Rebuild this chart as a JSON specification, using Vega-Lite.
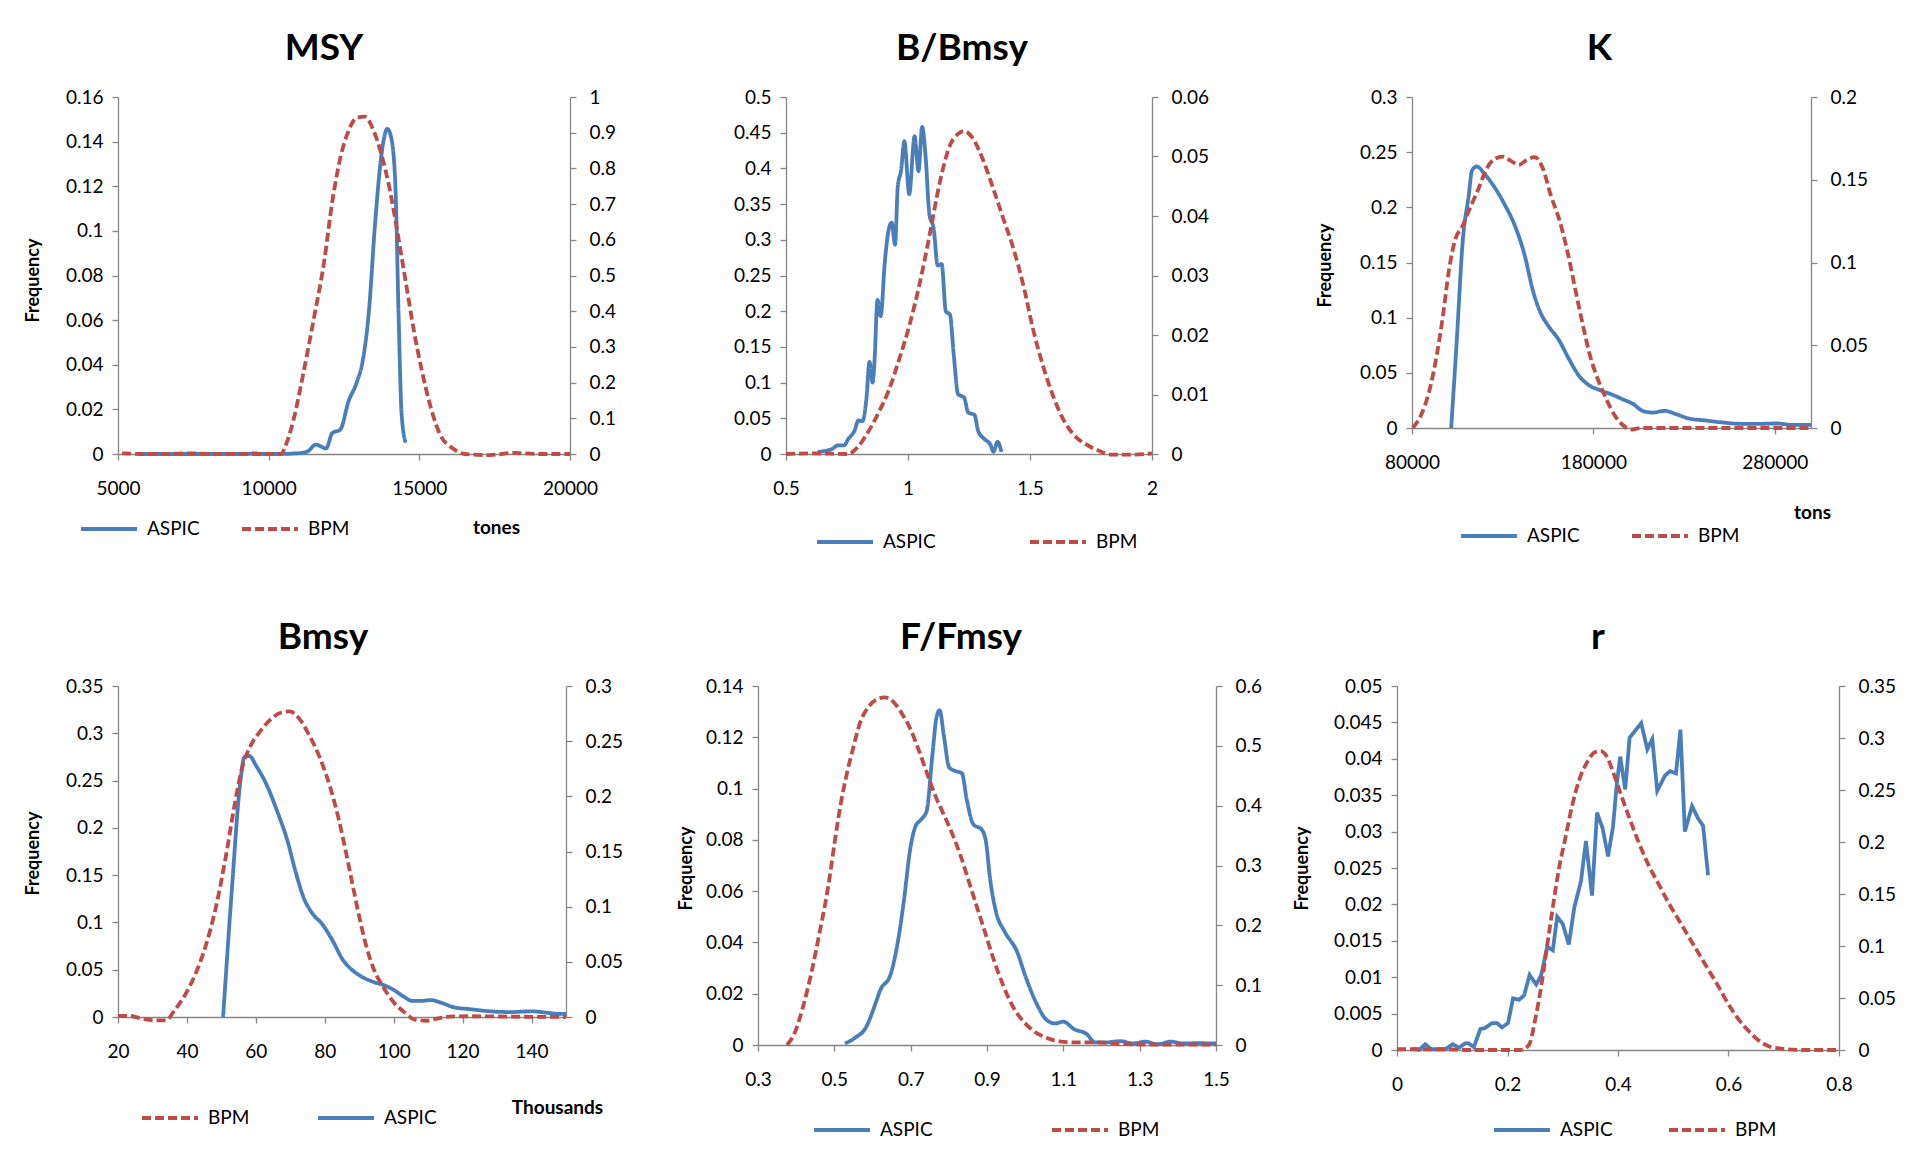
{
"$schema": "https://vega.github.io/schema/vega-lite/v6.json",
"autosize": {"type": "none"},
"padding": {"left": 118, "top": 97, "right": 1792, "bottom": 1079},
"background": "white",
"config": {
 "view": {"stroke": null},
 "font": "Lato",
 "axis": {"domainColor": "#868686", "tickColor": "#868686", "domainWidth": 1.3, "tickWidth": 1.3, "tickSize": 6, "labelFont": "Lato", "labelFontSize": 19, "labelColor": "#000000", "titleFont": "Lato", "titleFontSize": 18, "titleFontWeight": "bold", "titleColor": "#000000", "grid": false, "labelFlush": false, "labelOverlap": false, "labelBound": false, "format": "~g"},
 "axisX": {"labelPadding": 19},
 "axisLeft": {"labelPadding": 9},
 "axisRight": {"labelPadding": 13},
 "title": {"font": "Lato", "fontSize": 37, "fontWeight": "bold", "color": "#000000", "frame": "group", "anchor": "middle", "offset": 20},
 "legend": {"orient": "none", "direction": "horizontal", "title": null, "symbolType": "stroke", "symbolSize": 3136, "symbolStrokeWidth": 3.8, "labelFont": "Lato", "labelFontSize": 19, "labelColor": "#000000", "labelOffset": 8, "padding": 0}
},
"datasets": {
 "msy": [
  {"x":5745,"y":0,"s":"ASPIC"},{"x":6500,"y":0,"s":"ASPIC"},{"x":7500,"y":0,"s":"ASPIC"},{"x":8500,"y":0,"s":"ASPIC"},{"x":9300,"y":0,"s":"ASPIC"},{"x":9500,"y":0.0003,"s":"ASPIC"},{"x":9800,"y":0,"s":"ASPIC"},{"x":10400,"y":0,"s":"ASPIC"},{"x":10800,"y":0.0002,"s":"ASPIC"},{"x":11090,"y":0.0005,"s":"ASPIC"},{"x":11300,"y":0.0012,"s":"ASPIC"},{"x":11566,"y":0.0042,"s":"ASPIC"},{"x":11904,"y":0.0025,"s":"ASPIC"},{"x":12108,"y":0.0093,"s":"ASPIC"},{"x":12379,"y":0.011,"s":"ASPIC"},{"x":12650,"y":0.0236,"s":"ASPIC"},{"x":12920,"y":0.032,"s":"ASPIC"},{"x":13124,"y":0.042,"s":"ASPIC"},{"x":13327,"y":0.064,"s":"ASPIC"},{"x":13530,"y":0.103,"s":"ASPIC"},{"x":13733,"y":0.133,"s":"ASPIC"},{"x":13936,"y":0.1457,"s":"ASPIC"},{"x":14071,"y":0.1415,"s":"ASPIC"},{"x":14206,"y":0.12,"s":"ASPIC"},{"x":14314,"y":0.061,"s":"ASPIC"},{"x":14409,"y":0.0185,"s":"ASPIC"},{"x":14545,"y":0.005,"s":"ASPIC"},
  {"x":5135,"y":0.002,"s":"BPM"},{"x":6000,"y":0,"s":"BPM"},{"x":7000,"y":0.001,"s":"BPM"},{"x":7500,"y":0.002,"s":"BPM"},{"x":8000,"y":0,"s":"BPM"},{"x":9500,"y":0,"s":"BPM"},{"x":10416,"y":0,"s":"BPM"},{"x":10550,"y":0.021,"s":"BPM"},{"x":10822,"y":0.095,"s":"BPM"},{"x":11160,"y":0.23,"s":"BPM"},{"x":11500,"y":0.38,"s":"BPM"},{"x":11838,"y":0.537,"s":"BPM"},{"x":12108,"y":0.705,"s":"BPM"},{"x":12379,"y":0.83,"s":"BPM"},{"x":12650,"y":0.905,"s":"BPM"},{"x":12920,"y":0.942,"s":"BPM"},{"x":13191,"y":0.945,"s":"BPM"},{"x":13462,"y":0.91,"s":"BPM"},{"x":13733,"y":0.842,"s":"BPM"},{"x":14004,"y":0.747,"s":"BPM"},{"x":14275,"y":0.621,"s":"BPM"},{"x":14545,"y":0.484,"s":"BPM"},{"x":14816,"y":0.347,"s":"BPM"},{"x":15087,"y":0.232,"s":"BPM"},{"x":15358,"y":0.137,"s":"BPM"},{"x":15697,"y":0.053,"s":"BPM"},{"x":16103,"y":0.016,"s":"BPM"},{"x":16509,"y":0,"s":"BPM"},{"x":17321,"y":-0.003,"s":"BPM"},{"x":18133,"y":0.003,"s":"BPM"},{"x":18945,"y":0,"s":"BPM"},{"x":20000,"y":0,"s":"BPM"}
 ],
 "bb": [
  {"x":0.63,"y":0.003,"s":"ASPIC"},{"x":0.655,"y":0.004,"s":"ASPIC"},{"x":0.688,"y":0.007,"s":"ASPIC"},{"x":0.713,"y":0.012,"s":"ASPIC"},{"x":0.738,"y":0.012,"s":"ASPIC"},{"x":0.755,"y":0.021,"s":"ASPIC"},{"x":0.78,"y":0.032,"s":"ASPIC"},{"x":0.797,"y":0.047,"s":"ASPIC"},{"x":0.813,"y":0.046,"s":"ASPIC"},{"x":0.83,"y":0.079,"s":"ASPIC"},{"x":0.842,"y":0.129,"s":"ASPIC"},{"x":0.855,"y":0.1,"s":"ASPIC"},{"x":0.863,"y":0.132,"s":"ASPIC"},{"x":0.875,"y":0.216,"s":"ASPIC"},{"x":0.888,"y":0.193,"s":"ASPIC"},{"x":0.905,"y":0.269,"s":"ASPIC"},{"x":0.922,"y":0.316,"s":"ASPIC"},{"x":0.933,"y":0.324,"s":"ASPIC"},{"x":0.947,"y":0.293,"s":"ASPIC"},{"x":0.958,"y":0.374,"s":"ASPIC"},{"x":0.972,"y":0.398,"s":"ASPIC"},{"x":0.985,"y":0.438,"s":"ASPIC"},{"x":1.005,"y":0.364,"s":"ASPIC"},{"x":1.027,"y":0.445,"s":"ASPIC"},{"x":1.043,"y":0.396,"s":"ASPIC"},{"x":1.058,"y":0.458,"s":"ASPIC"},{"x":1.072,"y":0.417,"s":"ASPIC"},{"x":1.088,"y":0.335,"s":"ASPIC"},{"x":1.105,"y":0.316,"s":"ASPIC"},{"x":1.122,"y":0.264,"s":"ASPIC"},{"x":1.138,"y":0.266,"s":"ASPIC"},{"x":1.155,"y":0.2,"s":"ASPIC"},{"x":1.172,"y":0.195,"s":"ASPIC"},{"x":1.188,"y":0.137,"s":"ASPIC"},{"x":1.205,"y":0.084,"s":"ASPIC"},{"x":1.23,"y":0.079,"s":"ASPIC"},{"x":1.247,"y":0.058,"s":"ASPIC"},{"x":1.272,"y":0.055,"s":"ASPIC"},{"x":1.288,"y":0.032,"s":"ASPIC"},{"x":1.313,"y":0.021,"s":"ASPIC"},{"x":1.338,"y":0.013,"s":"ASPIC"},{"x":1.35,"y":0.003,"s":"ASPIC"},{"x":1.367,"y":0.017,"s":"ASPIC"},{"x":1.383,"y":0.003,"s":"ASPIC"},
  {"x":0.5,"y":0,"s":"BPM"},{"x":0.613,"y":0.0001,"s":"BPM"},{"x":0.755,"y":0,"s":"BPM"},{"x":0.797,"y":0.0013,"s":"BPM"},{"x":0.838,"y":0.0038,"s":"BPM"},{"x":0.88,"y":0.007,"s":"BPM"},{"x":0.922,"y":0.0108,"s":"BPM"},{"x":0.963,"y":0.0158,"s":"BPM"},{"x":1.005,"y":0.0215,"s":"BPM"},{"x":1.047,"y":0.0285,"s":"BPM"},{"x":1.088,"y":0.0367,"s":"BPM"},{"x":1.13,"y":0.0456,"s":"BPM"},{"x":1.172,"y":0.0519,"s":"BPM"},{"x":1.205,"y":0.0538,"s":"BPM"},{"x":1.23,"y":0.0543,"s":"BPM"},{"x":1.263,"y":0.0532,"s":"BPM"},{"x":1.305,"y":0.0497,"s":"BPM"},{"x":1.347,"y":0.0449,"s":"BPM"},{"x":1.388,"y":0.0399,"s":"BPM"},{"x":1.43,"y":0.0348,"s":"BPM"},{"x":1.472,"y":0.0285,"s":"BPM"},{"x":1.513,"y":0.0209,"s":"BPM"},{"x":1.555,"y":0.0146,"s":"BPM"},{"x":1.597,"y":0.0095,"s":"BPM"},{"x":1.638,"y":0.0057,"s":"BPM"},{"x":1.68,"y":0.0032,"s":"BPM"},{"x":1.73,"y":0.0016,"s":"BPM"},{"x":1.78,"y":0.0006,"s":"BPM"},{"x":1.83,"y":-0.0001,"s":"BPM"},{"x":1.913,"y":-0.0001,"s":"BPM"},{"x":2.0,"y":0.0001,"s":"BPM"}
 ],
 "k": [
  {"x":101600,"y":0,"s":"ASPIC"},{"x":104700,"y":0.08,"s":"ASPIC"},{"x":108000,"y":0.17,"s":"ASPIC"},{"x":111300,"y":0.211,"s":"ASPIC"},{"x":113100,"y":0.2335,"s":"ASPIC"},{"x":115700,"y":0.237,"s":"ASPIC"},{"x":120100,"y":0.23,"s":"ASPIC"},{"x":125600,"y":0.218,"s":"ASPIC"},{"x":131100,"y":0.2025,"s":"ASPIC"},{"x":136700,"y":0.1835,"s":"ASPIC"},{"x":142200,"y":0.156,"s":"ASPIC"},{"x":146600,"y":0.125,"s":"ASPIC"},{"x":151000,"y":0.104,"s":"ASPIC"},{"x":155400,"y":0.092,"s":"ASPIC"},{"x":160900,"y":0.08,"s":"ASPIC"},{"x":166400,"y":0.063,"s":"ASPIC"},{"x":172000,"y":0.0475,"s":"ASPIC"},{"x":177400,"y":0.039,"s":"ASPIC"},{"x":184100,"y":0.034,"s":"ASPIC"},{"x":190700,"y":0.03,"s":"ASPIC"},{"x":196200,"y":0.026,"s":"ASPIC"},{"x":201700,"y":0.022,"s":"ASPIC"},{"x":207200,"y":0.0155,"s":"ASPIC"},{"x":212700,"y":0.014,"s":"ASPIC"},{"x":219300,"y":0.0155,"s":"ASPIC"},{"x":225900,"y":0.0124,"s":"ASPIC"},{"x":232600,"y":0.0086,"s":"ASPIC"},{"x":241400,"y":0.0069,"s":"ASPIC"},{"x":250200,"y":0.0052,"s":"ASPIC"},{"x":261200,"y":0.0038,"s":"ASPIC"},{"x":272200,"y":0.0038,"s":"ASPIC"},{"x":281100,"y":0.0041,"s":"ASPIC"},{"x":289900,"y":0.0028,"s":"ASPIC"},{"x":300000,"y":0.0028,"s":"ASPIC"},
  {"x":80400,"y":0,"s":"BPM"},{"x":84900,"y":0.0076,"s":"BPM"},{"x":89300,"y":0.0214,"s":"BPM"},{"x":93700,"y":0.0443,"s":"BPM"},{"x":97000,"y":0.0673,"s":"BPM"},{"x":100300,"y":0.0948,"s":"BPM"},{"x":103600,"y":0.113,"s":"BPM"},{"x":108000,"y":0.1224,"s":"BPM"},{"x":112400,"y":0.134,"s":"BPM"},{"x":116800,"y":0.145,"s":"BPM"},{"x":121300,"y":0.157,"s":"BPM"},{"x":125600,"y":0.1626,"s":"BPM"},{"x":130000,"y":0.164,"s":"BPM"},{"x":134500,"y":0.1614,"s":"BPM"},{"x":138900,"y":0.159,"s":"BPM"},{"x":143300,"y":0.162,"s":"BPM"},{"x":147700,"y":0.1637,"s":"BPM"},{"x":152100,"y":0.157,"s":"BPM"},{"x":156500,"y":0.1407,"s":"BPM"},{"x":160900,"y":0.127,"s":"BPM"},{"x":165300,"y":0.1086,"s":"BPM"},{"x":169700,"y":0.0856,"s":"BPM"},{"x":174100,"y":0.0627,"s":"BPM"},{"x":178600,"y":0.042,"s":"BPM"},{"x":183000,"y":0.028,"s":"BPM"},{"x":187400,"y":0.0168,"s":"BPM"},{"x":191800,"y":0.0076,"s":"BPM"},{"x":196200,"y":0.0018,"s":"BPM"},{"x":200600,"y":-0.001,"s":"BPM"},{"x":206100,"y":0,"s":"BPM"},{"x":217100,"y":0,"s":"BPM"},{"x":239200,"y":0,"s":"BPM"},{"x":261200,"y":0,"s":"BPM"},{"x":283300,"y":0,"s":"BPM"},{"x":300000,"y":0,"s":"BPM"}
 ],
 "bmsy": [
  {"x":50.5,"y":0,"s":"ASPIC"},{"x":53.1,"y":0.138,"s":"ASPIC"},{"x":55.5,"y":0.249,"s":"ASPIC"},{"x":56.7,"y":0.275,"s":"ASPIC"},{"x":58.1,"y":0.276,"s":"ASPIC"},{"x":60.2,"y":0.265,"s":"ASPIC"},{"x":63.2,"y":0.245,"s":"ASPIC"},{"x":66.2,"y":0.2175,"s":"ASPIC"},{"x":69.2,"y":0.186,"s":"ASPIC"},{"x":71.5,"y":0.154,"s":"ASPIC"},{"x":73.9,"y":0.126,"s":"ASPIC"},{"x":76.3,"y":0.11,"s":"ASPIC"},{"x":79.3,"y":0.098,"s":"ASPIC"},{"x":82.3,"y":0.0806,"s":"ASPIC"},{"x":85.2,"y":0.0607,"s":"ASPIC"},{"x":87.6,"y":0.0508,"s":"ASPIC"},{"x":90.6,"y":0.0429,"s":"ASPIC"},{"x":94.2,"y":0.0369,"s":"ASPIC"},{"x":97.7,"y":0.0329,"s":"ASPIC"},{"x":100.7,"y":0.027,"s":"ASPIC"},{"x":103.1,"y":0.021,"s":"ASPIC"},{"x":105.5,"y":0.017,"s":"ASPIC"},{"x":107.9,"y":0.017,"s":"ASPIC"},{"x":110.8,"y":0.0179,"s":"ASPIC"},{"x":113.8,"y":0.0151,"s":"ASPIC"},{"x":117.4,"y":0.0103,"s":"ASPIC"},{"x":122.1,"y":0.0083,"s":"ASPIC"},{"x":128.1,"y":0.006,"s":"ASPIC"},{"x":134,"y":0.0052,"s":"ASPIC"},{"x":140,"y":0.006,"s":"ASPIC"},{"x":144.8,"y":0.0044,"s":"ASPIC"},{"x":148.3,"y":0.0032,"s":"ASPIC"},{"x":150,"y":0.0032,"s":"ASPIC"},
  {"x":20,"y":0.001,"s":"BPM"},{"x":23.3,"y":0.001,"s":"BPM"},{"x":26.9,"y":-0.0014,"s":"BPM"},{"x":30.5,"y":-0.003,"s":"BPM"},{"x":34,"y":-0.003,"s":"BPM"},{"x":36.4,"y":0.006,"s":"BPM"},{"x":39.4,"y":0.0197,"s":"BPM"},{"x":42.4,"y":0.0384,"s":"BPM"},{"x":45.4,"y":0.064,"s":"BPM"},{"x":48.3,"y":0.098,"s":"BPM"},{"x":51.3,"y":0.1456,"s":"BPM"},{"x":53.7,"y":0.19,"s":"BPM"},{"x":56.1,"y":0.227,"s":"BPM"},{"x":58.5,"y":0.246,"s":"BPM"},{"x":61.4,"y":0.2595,"s":"BPM"},{"x":64.4,"y":0.27,"s":"BPM"},{"x":67.4,"y":0.276,"s":"BPM"},{"x":69.8,"y":0.277,"s":"BPM"},{"x":72.7,"y":0.27,"s":"BPM"},{"x":75.7,"y":0.254,"s":"BPM"},{"x":78.7,"y":0.234,"s":"BPM"},{"x":81.7,"y":0.207,"s":"BPM"},{"x":84,"y":0.18,"s":"BPM"},{"x":86.4,"y":0.1456,"s":"BPM"},{"x":88.2,"y":0.118,"s":"BPM"},{"x":90,"y":0.091,"s":"BPM"},{"x":91.8,"y":0.067,"s":"BPM"},{"x":94.2,"y":0.0435,"s":"BPM"},{"x":97.1,"y":0.0265,"s":"BPM"},{"x":100.1,"y":0.013,"s":"BPM"},{"x":103.1,"y":0.0044,"s":"BPM"},{"x":106.1,"y":-0.0024,"s":"BPM"},{"x":109.6,"y":-0.0034,"s":"BPM"},{"x":112.6,"y":-0.0014,"s":"BPM"},{"x":116.2,"y":0.0003,"s":"BPM"},{"x":122.1,"y":0.0007,"s":"BPM"},{"x":134,"y":0.0003,"s":"BPM"},{"x":150,"y":0,"s":"BPM"}
 ],
 "ff": [
  {"x":0.528,"y":0.0006,"s":"ASPIC"},{"x":0.555,"y":0.0029,"s":"ASPIC"},{"x":0.583,"y":0.0069,"s":"ASPIC"},{"x":0.605,"y":0.015,"s":"ASPIC"},{"x":0.621,"y":0.0216,"s":"ASPIC"},{"x":0.647,"y":0.0274,"s":"ASPIC"},{"x":0.666,"y":0.0399,"s":"ASPIC"},{"x":0.682,"y":0.056,"s":"ASPIC"},{"x":0.699,"y":0.0766,"s":"ASPIC"},{"x":0.713,"y":0.0854,"s":"ASPIC"},{"x":0.728,"y":0.088,"s":"ASPIC"},{"x":0.742,"y":0.0913,"s":"ASPIC"},{"x":0.757,"y":0.1133,"s":"ASPIC"},{"x":0.768,"y":0.128,"s":"ASPIC"},{"x":0.776,"y":0.1305,"s":"ASPIC"},{"x":0.787,"y":0.1206,"s":"ASPIC"},{"x":0.801,"y":0.1082,"s":"ASPIC"},{"x":0.82,"y":0.1067,"s":"ASPIC"},{"x":0.834,"y":0.106,"s":"ASPIC"},{"x":0.847,"y":0.0957,"s":"ASPIC"},{"x":0.864,"y":0.0861,"s":"ASPIC"},{"x":0.886,"y":0.084,"s":"ASPIC"},{"x":0.897,"y":0.0795,"s":"ASPIC"},{"x":0.908,"y":0.0649,"s":"ASPIC"},{"x":0.924,"y":0.0517,"s":"ASPIC"},{"x":0.946,"y":0.0443,"s":"ASPIC"},{"x":0.979,"y":0.0363,"s":"ASPIC"},{"x":1.001,"y":0.0267,"s":"ASPIC"},{"x":1.029,"y":0.0164,"s":"ASPIC"},{"x":1.056,"y":0.0098,"s":"ASPIC"},{"x":1.078,"y":0.0084,"s":"ASPIC"},{"x":1.1,"y":0.0091,"s":"ASPIC"},{"x":1.128,"y":0.0062,"s":"ASPIC"},{"x":1.161,"y":0.0043,"s":"ASPIC"},{"x":1.183,"y":0.001,"s":"ASPIC"},{"x":1.21,"y":0.001,"s":"ASPIC"},{"x":1.249,"y":0.0015,"s":"ASPIC"},{"x":1.282,"y":0.0006,"s":"ASPIC"},{"x":1.315,"y":0.0013,"s":"ASPIC"},{"x":1.348,"y":0.0003,"s":"ASPIC"},{"x":1.381,"y":0.0013,"s":"ASPIC"},{"x":1.414,"y":0.0006,"s":"ASPIC"},{"x":1.447,"y":0.0007,"s":"ASPIC"},{"x":1.5,"y":0.0006,"s":"ASPIC"},
  {"x":0.376,"y":0,"s":"BPM"},{"x":0.396,"y":0.02,"s":"BPM"},{"x":0.418,"y":0.064,"s":"BPM"},{"x":0.44,"y":0.121,"s":"BPM"},{"x":0.462,"y":0.19,"s":"BPM"},{"x":0.484,"y":0.265,"s":"BPM"},{"x":0.5,"y":0.335,"s":"BPM"},{"x":0.517,"y":0.404,"s":"BPM"},{"x":0.533,"y":0.454,"s":"BPM"},{"x":0.55,"y":0.498,"s":"BPM"},{"x":0.566,"y":0.536,"s":"BPM"},{"x":0.588,"y":0.564,"s":"BPM"},{"x":0.61,"y":0.577,"s":"BPM"},{"x":0.632,"y":0.581,"s":"BPM"},{"x":0.654,"y":0.574,"s":"BPM"},{"x":0.676,"y":0.555,"s":"BPM"},{"x":0.698,"y":0.53,"s":"BPM"},{"x":0.72,"y":0.495,"s":"BPM"},{"x":0.743,"y":0.454,"s":"BPM"},{"x":0.765,"y":0.416,"s":"BPM"},{"x":0.787,"y":0.385,"s":"BPM"},{"x":0.809,"y":0.353,"s":"BPM"},{"x":0.831,"y":0.316,"s":"BPM"},{"x":0.853,"y":0.272,"s":"BPM"},{"x":0.875,"y":0.228,"s":"BPM"},{"x":0.897,"y":0.184,"s":"BPM"},{"x":0.919,"y":0.14,"s":"BPM"},{"x":0.941,"y":0.102,"s":"BPM"},{"x":0.968,"y":0.064,"s":"BPM"},{"x":0.996,"y":0.039,"s":"BPM"},{"x":1.023,"y":0.023,"s":"BPM"},{"x":1.056,"y":0.012,"s":"BPM"},{"x":1.089,"y":0.006,"s":"BPM"},{"x":1.133,"y":0.0044,"s":"BPM"},{"x":1.188,"y":0.0044,"s":"BPM"},{"x":1.266,"y":0.0013,"s":"BPM"},{"x":1.376,"y":0.0006,"s":"BPM"},{"x":1.5,"y":0.0006,"s":"BPM"}
 ],
 "r": [
  {"x":0.029,"y":0.0002,"s":"ASPIC"},{"x":0.04,"y":0,"s":"ASPIC"},{"x":0.051,"y":0.0008,"s":"ASPIC"},{"x":0.062,"y":0.0001,"s":"ASPIC"},{"x":0.087,"y":0.0001,"s":"ASPIC"},{"x":0.101,"y":0.0008,"s":"ASPIC"},{"x":0.112,"y":0.0003,"s":"ASPIC"},{"x":0.123,"y":0.0009,"s":"ASPIC"},{"x":0.13,"y":0.0009,"s":"ASPIC"},{"x":0.139,"y":0.0004,"s":"ASPIC"},{"x":0.151,"y":0.0029,"s":"ASPIC"},{"x":0.159,"y":0.003,"s":"ASPIC"},{"x":0.172,"y":0.0037,"s":"ASPIC"},{"x":0.181,"y":0.0037,"s":"ASPIC"},{"x":0.19,"y":0.0031,"s":"ASPIC"},{"x":0.201,"y":0.0037,"s":"ASPIC"},{"x":0.21,"y":0.0071,"s":"ASPIC"},{"x":0.221,"y":0.0069,"s":"ASPIC"},{"x":0.23,"y":0.0075,"s":"ASPIC"},{"x":0.24,"y":0.0103,"s":"ASPIC"},{"x":0.252,"y":0.009,"s":"ASPIC"},{"x":0.261,"y":0.0103,"s":"ASPIC"},{"x":0.272,"y":0.0142,"s":"ASPIC"},{"x":0.282,"y":0.0137,"s":"ASPIC"},{"x":0.29,"y":0.0183,"s":"ASPIC"},{"x":0.3,"y":0.0173,"s":"ASPIC"},{"x":0.311,"y":0.0145,"s":"ASPIC"},{"x":0.321,"y":0.0196,"s":"ASPIC"},{"x":0.333,"y":0.0232,"s":"ASPIC"},{"x":0.342,"y":0.0287,"s":"ASPIC"},{"x":0.353,"y":0.0212,"s":"ASPIC"},{"x":0.362,"y":0.0326,"s":"ASPIC"},{"x":0.372,"y":0.0305,"s":"ASPIC"},{"x":0.382,"y":0.0266,"s":"ASPIC"},{"x":0.391,"y":0.0307,"s":"ASPIC"},{"x":0.398,"y":0.0367,"s":"ASPIC"},{"x":0.404,"y":0.0403,"s":"ASPIC"},{"x":0.413,"y":0.0358,"s":"ASPIC"},{"x":0.421,"y":0.0429,"s":"ASPIC"},{"x":0.442,"y":0.0449,"s":"ASPIC"},{"x":0.453,"y":0.0413,"s":"ASPIC"},{"x":0.462,"y":0.0427,"s":"ASPIC"},{"x":0.471,"y":0.0356,"s":"ASPIC"},{"x":0.485,"y":0.0377,"s":"ASPIC"},{"x":0.494,"y":0.0383,"s":"ASPIC"},{"x":0.505,"y":0.038,"s":"ASPIC"},{"x":0.513,"y":0.044,"s":"ASPIC"},{"x":0.521,"y":0.03,"s":"ASPIC"},{"x":0.534,"y":0.0335,"s":"ASPIC"},{"x":0.545,"y":0.0318,"s":"ASPIC"},{"x":0.554,"y":0.0308,"s":"ASPIC"},{"x":0.563,"y":0.024,"s":"ASPIC"},
  {"x":0,"y":0.0007,"s":"BPM"},{"x":0.08,"y":0.0007,"s":"BPM"},{"x":0.138,"y":0,"s":"BPM"},{"x":0.196,"y":0,"s":"BPM"},{"x":0.224,"y":0,"s":"BPM"},{"x":0.239,"y":0.005,"s":"BPM"},{"x":0.25,"y":0.029,"s":"BPM"},{"x":0.261,"y":0.061,"s":"BPM"},{"x":0.272,"y":0.101,"s":"BPM"},{"x":0.282,"y":0.137,"s":"BPM"},{"x":0.293,"y":0.174,"s":"BPM"},{"x":0.304,"y":0.202,"s":"BPM"},{"x":0.317,"y":0.235,"s":"BPM"},{"x":0.329,"y":0.2585,"s":"BPM"},{"x":0.344,"y":0.2766,"s":"BPM"},{"x":0.358,"y":0.2863,"s":"BPM"},{"x":0.369,"y":0.2874,"s":"BPM"},{"x":0.38,"y":0.282,"s":"BPM"},{"x":0.391,"y":0.2675,"s":"BPM"},{"x":0.405,"y":0.246,"s":"BPM"},{"x":0.42,"y":0.224,"s":"BPM"},{"x":0.438,"y":0.199,"s":"BPM"},{"x":0.456,"y":0.177,"s":"BPM"},{"x":0.474,"y":0.159,"s":"BPM"},{"x":0.492,"y":0.141,"s":"BPM"},{"x":0.51,"y":0.125,"s":"BPM"},{"x":0.529,"y":0.108,"s":"BPM"},{"x":0.547,"y":0.092,"s":"BPM"},{"x":0.565,"y":0.076,"s":"BPM"},{"x":0.583,"y":0.06,"s":"BPM"},{"x":0.601,"y":0.043,"s":"BPM"},{"x":0.619,"y":0.029,"s":"BPM"},{"x":0.637,"y":0.018,"s":"BPM"},{"x":0.655,"y":0.009,"s":"BPM"},{"x":0.673,"y":0.0036,"s":"BPM"},{"x":0.695,"y":0.0014,"s":"BPM"},{"x":0.731,"y":0,"s":"BPM"},{"x":0.8,"y":0,"s":"BPM"}
 ]
},
"bounds": "flush",
"spacing": 589,
"resolve": {"scale": {"color": "independent", "strokeDash": "independent"}, "legend": {"color": "independent", "strokeDash": "independent"}},
"vconcat": [
 {"bounds": "flush", "spacing": 216,
  "resolve": {"scale": {"color": "independent", "strokeDash": "independent"}, "legend": {"color": "independent", "strokeDash": "independent"}},
  "hconcat": [
  {"width": 452, "height": 357, "title": {"text": "MSY", "dx": -20},
   "data": {"name": "msy"},
   "resolve": {"scale": {"y": "independent"}},
   "layer": [
    {"transform": [{"filter": "datum.s === 'ASPIC'"}],
     "mark": {"type": "line", "interpolate": "monotone", "strokeWidth": 3.8},
     "encoding": {
      "x": {"field": "x", "type": "quantitative", "scale": {"domain": [5000, 20000], "nice": false, "zero": false}, "axis": {"values": [5000, 10000, 15000, 20000], "format": "d", "title": "tones", "titleX": 378, "titleY": 73, "titleAlign": "center", "titleBaseline": "middle", "titleFontSize": 19}},
      "y": {"field": "y", "type": "quantitative", "scale": {"domain": [0, 0.16], "nice": false}, "axis": {"orient": "left", "values": [0, 0.02, 0.04, 0.06, 0.08, 0.1, 0.12, 0.14, 0.16], "title": "Frequency", "titleX": -85, "titleY": 183, "titleBaseline": "middle", "titleAlign": "center"}},
      "color": {"field": "s", "type": "nominal", "scale": {"domain": ["ASPIC", "BPM"], "range": ["#4A7EBB", "#BE4B48"]}, "legend": {"legendX": -39, "legendY": 402, "columnPadding": 34}},
      "strokeDash": {"field": "s", "type": "nominal", "scale": {"domain": ["ASPIC", "BPM"], "range": [[1, 0], [9, 4]]}, "legend": {"legendX": -39, "legendY": 402, "columnPadding": 34}}
     }},
    {"transform": [{"filter": "datum.s === 'BPM'"}],
     "mark": {"type": "line", "interpolate": "monotone", "strokeWidth": 3.8},
     "encoding": {
      "x": {"field": "x", "type": "quantitative"},
      "y": {"field": "y", "type": "quantitative", "scale": {"domain": [0, 1], "nice": false}, "axis": {"orient": "right", "values": [0, 0.1, 0.2, 0.3, 0.4, 0.5, 0.6, 0.7, 0.8, 0.9, 1], "title": null}},
      "color": {"field": "s", "type": "nominal"},
      "strokeDash": {"field": "s", "type": "nominal"}
     }}
   ]},
  {"bounds": "flush", "spacing": 260,
   "resolve": {"scale": {"color": "independent", "strokeDash": "independent"}, "legend": {"color": "independent", "strokeDash": "independent"}},
   "hconcat": [
   {"width": 366, "height": 357, "title": {"text": "B/Bmsy", "dx": -7},
    "data": {"name": "bb"},
    "resolve": {"scale": {"y": "independent"}},
    "layer": [
     {"transform": [{"filter": "datum.s === 'ASPIC'"}],
      "mark": {"type": "line", "interpolate": "monotone", "strokeWidth": 3.8},
      "encoding": {
       "x": {"field": "x", "type": "quantitative", "scale": {"domain": [0.5, 2], "nice": false, "zero": false}, "axis": {"values": [0.5, 1, 1.5, 2], "title": null}},
       "y": {"field": "y", "type": "quantitative", "scale": {"domain": [0, 0.5], "nice": false}, "axis": {"orient": "left", "values": [0, 0.05, 0.1, 0.15, 0.2, 0.25, 0.3, 0.35, 0.4, 0.45, 0.5], "title": null}},
       "color": {"field": "s", "type": "nominal", "scale": {"domain": ["ASPIC", "BPM"], "range": ["#4A7EBB", "#BE4B48"]}, "legend": {"legendX": 29, "legendY": 415, "columnPadding": 86}},
       "strokeDash": {"field": "s", "type": "nominal", "scale": {"domain": ["ASPIC", "BPM"], "range": [[1, 0], [9, 4]]}, "legend": {"legendX": 29, "legendY": 415, "columnPadding": 86}}
      }},
     {"transform": [{"filter": "datum.s === 'BPM'"}],
      "mark": {"type": "line", "interpolate": "monotone", "strokeWidth": 3.8},
      "encoding": {
       "x": {"field": "x", "type": "quantitative"},
       "y": {"field": "y", "type": "quantitative", "scale": {"domain": [0, 0.06], "nice": false}, "axis": {"orient": "right", "values": [0, 0.01, 0.02, 0.03, 0.04, 0.05, 0.06], "title": null}},
       "color": {"field": "s", "type": "nominal"},
       "strokeDash": {"field": "s", "type": "nominal"}
      }}
    ]},
   {"width": 399, "height": 331, "title": {"text": "K", "dx": -12},
    "data": {"name": "k"},
    "resolve": {"scale": {"y": "independent"}},
    "layer": [
     {"transform": [{"filter": "datum.s === 'ASPIC'"}],
      "mark": {"type": "line", "interpolate": "monotone", "strokeWidth": 3.8},
      "encoding": {
       "x": {"field": "x", "type": "quantitative", "scale": {"domain": [80000, 300000], "nice": false, "zero": false}, "axis": {"values": [80000, 180000, 280000], "format": "d", "title": "tons", "titleX": 400, "titleY": 84, "titleAlign": "center", "titleBaseline": "middle", "titleFontSize": 19}},
       "y": {"field": "y", "type": "quantitative", "scale": {"domain": [0, 0.3], "nice": false}, "axis": {"orient": "left", "values": [0, 0.05, 0.1, 0.15, 0.2, 0.25, 0.3], "title": "Frequency", "titleX": -87, "titleY": 168, "titleBaseline": "middle", "titleAlign": "center"}},
       "color": {"field": "s", "type": "nominal", "scale": {"domain": ["ASPIC", "BPM"], "range": ["#4A7EBB", "#BE4B48"]}, "legend": {"legendX": 47, "legendY": 409, "columnPadding": 44}},
       "strokeDash": {"field": "s", "type": "nominal", "scale": {"domain": ["ASPIC", "BPM"], "range": [[1, 0], [9, 4]]}, "legend": {"legendX": 47, "legendY": 409, "columnPadding": 44}}
      }},
     {"transform": [{"filter": "datum.s === 'BPM'"}],
      "mark": {"type": "line", "interpolate": "monotone", "strokeWidth": 3.8},
      "encoding": {
       "x": {"field": "x", "type": "quantitative"},
       "y": {"field": "y", "type": "quantitative", "scale": {"domain": [0, 0.2], "nice": false}, "axis": {"orient": "right", "values": [0, 0.05, 0.1, 0.15, 0.2], "title": null}},
       "color": {"field": "s", "type": "nominal"},
       "strokeDash": {"field": "s", "type": "nominal"}
      }}
    ]}
  ]}
 ]},
 {"bounds": "flush", "spacing": 192,
  "resolve": {"scale": {"color": "independent", "strokeDash": "independent"}, "legend": {"color": "independent", "strokeDash": "independent"}},
  "hconcat": [
  {"width": 448, "height": 331, "title": {"text": "Bmsy", "dx": -19},
   "data": {"name": "bmsy"},
   "resolve": {"scale": {"y": "independent"}},
   "layer": [
    {"transform": [{"filter": "datum.s === 'ASPIC'"}],
     "mark": {"type": "line", "interpolate": "monotone", "strokeWidth": 3.8},
     "encoding": {
      "x": {"field": "x", "type": "quantitative", "scale": {"domain": [20, 150], "nice": false, "zero": false}, "axis": {"values": [20, 40, 60, 80, 100, 120, 140], "format": "d", "title": "Thousands", "titleX": 439, "titleY": 90, "titleAlign": "center", "titleBaseline": "middle", "titleFontSize": 19}},
      "y": {"field": "y", "type": "quantitative", "scale": {"domain": [0, 0.35], "nice": false}, "axis": {"orient": "left", "values": [0, 0.05, 0.1, 0.15, 0.2, 0.25, 0.3, 0.35], "title": "Frequency", "titleX": -85, "titleY": 167, "titleBaseline": "middle", "titleAlign": "center"}},
      "color": {"field": "s", "type": "nominal", "scale": {"domain": ["BPM", "ASPIC"], "range": ["#BE4B48", "#4A7EBB"]}, "legend": {"legendX": 22, "legendY": 402, "columnPadding": 60}},
      "strokeDash": {"field": "s", "type": "nominal", "scale": {"domain": ["BPM", "ASPIC"], "range": [[9, 4], [1, 0]]}, "legend": {"legendX": 22, "legendY": 402, "columnPadding": 60}}
     }},
    {"transform": [{"filter": "datum.s === 'BPM'"}],
     "mark": {"type": "line", "interpolate": "monotone", "strokeWidth": 3.8},
     "encoding": {
      "x": {"field": "x", "type": "quantitative"},
      "y": {"field": "y", "type": "quantitative", "scale": {"domain": [0, 0.3], "nice": false}, "axis": {"orient": "right", "values": [0, 0.05, 0.1, 0.15, 0.2, 0.25, 0.3], "title": null}},
      "color": {"field": "s", "type": "nominal"},
      "strokeDash": {"field": "s", "type": "nominal"}
     }}
   ]},
  {"bounds": "flush", "spacing": 181,
   "resolve": {"scale": {"color": "independent", "strokeDash": "independent"}, "legend": {"color": "independent", "strokeDash": "independent"}},
   "hconcat": [
   {"width": 458, "height": 359, "title": {"text": "F/Fmsy", "dx": -26},
    "data": {"name": "ff"},
    "resolve": {"scale": {"y": "independent"}},
    "layer": [
     {"transform": [{"filter": "datum.s === 'ASPIC'"}],
      "mark": {"type": "line", "interpolate": "monotone", "strokeWidth": 3.8},
      "encoding": {
       "x": {"field": "x", "type": "quantitative", "scale": {"domain": [0.3, 1.5], "nice": false, "zero": false}, "axis": {"values": [0.3, 0.5, 0.7, 0.9, 1.1, 1.3, 1.5], "title": null}},
       "y": {"field": "y", "type": "quantitative", "scale": {"domain": [0, 0.14], "nice": false}, "axis": {"orient": "left", "values": [0, 0.02, 0.04, 0.06, 0.08, 0.1, 0.12, 0.14], "title": "Frequency", "titleX": -72, "titleY": 182, "titleBaseline": "middle", "titleAlign": "center"}},
       "color": {"field": "s", "type": "nominal", "scale": {"domain": ["ASPIC", "BPM"], "range": ["#4A7EBB", "#BE4B48"]}, "legend": {"legendX": 54, "legendY": 414, "columnPadding": 111}},
       "strokeDash": {"field": "s", "type": "nominal", "scale": {"domain": ["ASPIC", "BPM"], "range": [[1, 0], [9, 4]]}, "legend": {"legendX": 54, "legendY": 414, "columnPadding": 111}}
      }},
     {"transform": [{"filter": "datum.s === 'BPM'"}],
      "mark": {"type": "line", "interpolate": "monotone", "strokeWidth": 3.8},
      "encoding": {
       "x": {"field": "x", "type": "quantitative"},
       "y": {"field": "y", "type": "quantitative", "scale": {"domain": [0, 0.6], "nice": false}, "axis": {"orient": "right", "values": [0, 0.1, 0.2, 0.3, 0.4, 0.5, 0.6], "title": null}},
       "color": {"field": "s", "type": "nominal"},
       "strokeDash": {"field": "s", "type": "nominal"}
      }}
    ]},
   {"width": 442, "height": 364, "title": {"text": "r", "dx": -20},
    "data": {"name": "r"},
    "resolve": {"scale": {"y": "independent"}},
    "layer": [
     {"transform": [{"filter": "datum.s === 'ASPIC'"}],
      "mark": {"type": "line", "interpolate": "linear", "strokeWidth": 3.8},
      "encoding": {
       "x": {"field": "x", "type": "quantitative", "scale": {"domain": [0, 0.8], "nice": false, "zero": false}, "axis": {"values": [0, 0.2, 0.4, 0.6, 0.8], "title": null}},
       "y": {"field": "y", "type": "quantitative", "scale": {"domain": [0, 0.05], "nice": false}, "axis": {"orient": "left", "values": [0, 0.005, 0.01, 0.015, 0.02, 0.025, 0.03, 0.035, 0.04, 0.045, 0.05], "title": "Frequency", "titleX": -95, "titleY": 182, "titleBaseline": "middle", "titleAlign": "center"}},
       "color": {"field": "s", "type": "nominal", "scale": {"domain": ["ASPIC", "BPM"], "range": ["#4A7EBB", "#BE4B48"]}, "legend": {"legendX": 95, "legendY": 414, "columnPadding": 48}},
       "strokeDash": {"field": "s", "type": "nominal", "scale": {"domain": ["ASPIC", "BPM"], "range": [[1, 0], [9, 4]]}, "legend": {"legendX": 95, "legendY": 414, "columnPadding": 48}}
      }},
     {"transform": [{"filter": "datum.s === 'BPM'"}],
      "mark": {"type": "line", "interpolate": "monotone", "strokeWidth": 3.8},
      "encoding": {
       "x": {"field": "x", "type": "quantitative"},
       "y": {"field": "y", "type": "quantitative", "scale": {"domain": [0, 0.35], "nice": false}, "axis": {"orient": "right", "values": [0, 0.05, 0.1, 0.15, 0.2, 0.25, 0.3, 0.35], "title": null}},
       "color": {"field": "s", "type": "nominal"},
       "strokeDash": {"field": "s", "type": "nominal"}
      }}
    ]}
  ]}
 ]}
]
}
